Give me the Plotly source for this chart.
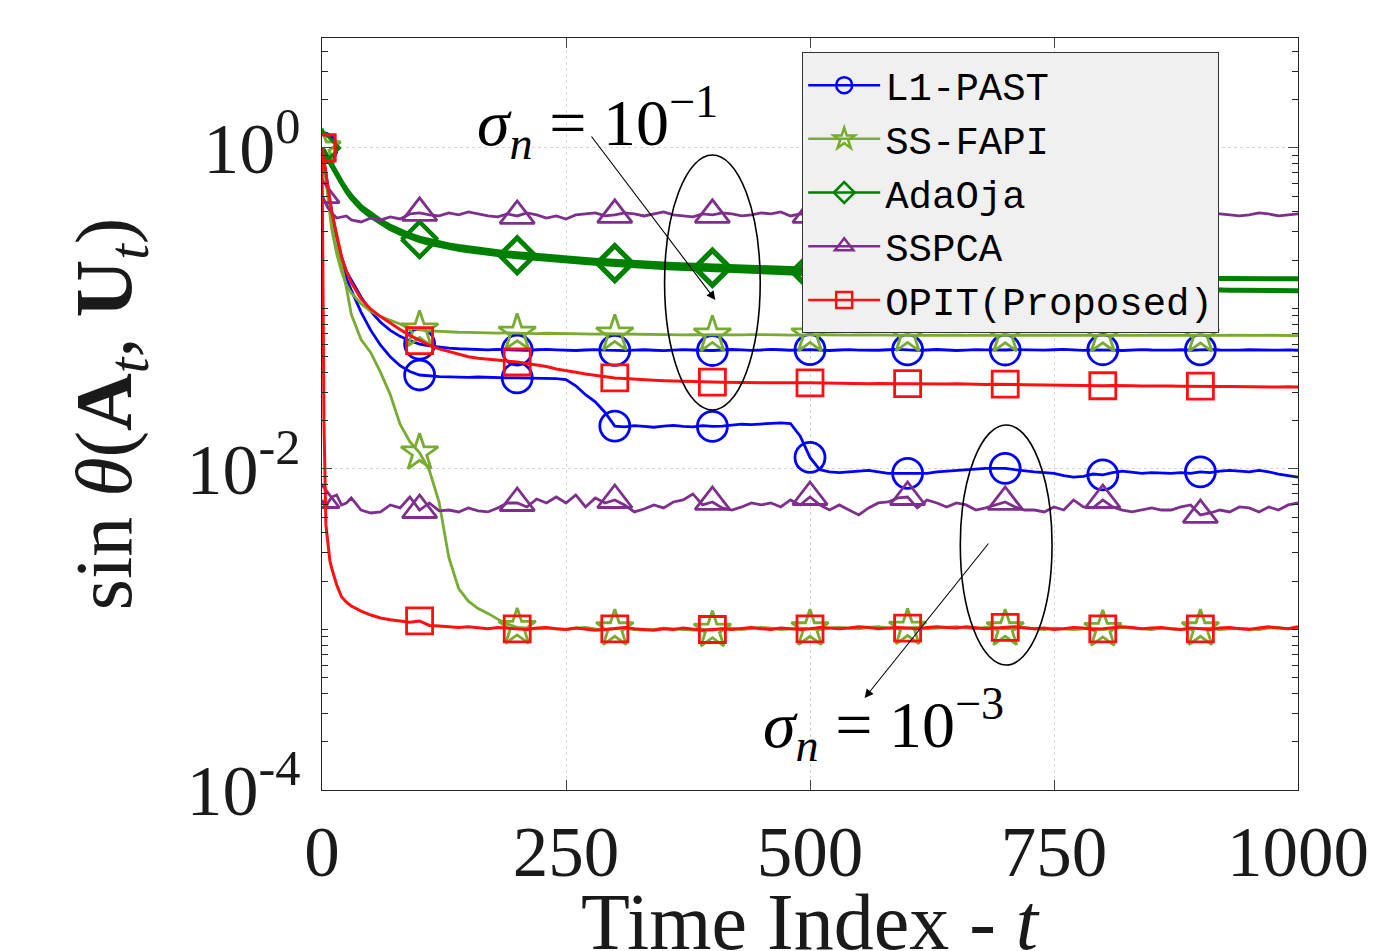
import plotly.graph_objects as go

# ---------------- data (time grid and sin-theta values) ----------------
T = [0, 2, 4, 6, 8, 10, 15, 20, 25, 30] + list(range(40, 1001, 10))
MARK_T = [0, 100, 200, 300, 400, 500, 600, 700, 800, 900]

L1PAST_HI = [1.0, 0.85, 0.70, 0.58, 0.48, 0.40, 0.28, 0.21, 0.17, 0.15,
             0.118, 0.096, 0.082, 0.073, 0.067, 0.063, 0.0600, 0.0585, 0.0573, 0.0566,
             0.0561, 0.0557, 0.0555, 0.0552, 0.0556, 0.0553, 0.0551, 0.0548, 0.0553, 0.0556,
             0.0552, 0.0549, 0.0547, 0.0551, 0.0554, 0.0550, 0.0548, 0.0546, 0.0550, 0.0553,
             0.0549, 0.0546, 0.0550, 0.0554, 0.0551, 0.0548, 0.0547, 0.0551, 0.0555, 0.0552,
             0.0548, 0.0551, 0.0556, 0.0553, 0.0549, 0.0552, 0.0554, 0.0550, 0.0547, 0.0551,
             0.0554, 0.0550, 0.0547, 0.0549, 0.0553, 0.0556, 0.0552, 0.0548, 0.0551, 0.0555,
             0.0551, 0.0547, 0.0550, 0.0554, 0.0552, 0.0549, 0.0551, 0.0555, 0.0552, 0.0548,
             0.0550, 0.0553, 0.0556, 0.0552, 0.0548, 0.0551, 0.0553, 0.0550, 0.0547, 0.0551,
             0.0554, 0.0551, 0.0548, 0.0550, 0.0553, 0.0549, 0.0552, 0.0555, 0.0551, 0.0548,
             0.0550, 0.0553, 0.0551, 0.0548, 0.0550, 0.0552, 0.0549]
L1PAST_LO = [1.0, 0.84, 0.68, 0.55, 0.45, 0.37, 0.25, 0.19, 0.155, 0.13,
             0.095, 0.073, 0.059, 0.050, 0.044, 0.0405, 0.0385, 0.0379, 0.0376, 0.0375,
             0.0373, 0.0372, 0.0374, 0.0371, 0.0370, 0.0369, 0.0369, 0.0368, 0.0370, 0.0367,
             0.0365, 0.0360, 0.0330, 0.0290, 0.0262, 0.0225, 0.0185, 0.0183, 0.0186, 0.0184,
             0.0182, 0.0185, 0.0187, 0.0184, 0.0183, 0.0186, 0.0184, 0.0185, 0.0188, 0.0190,
             0.0189, 0.0191, 0.0193, 0.0194, 0.0192, 0.0160, 0.0118, 0.0099, 0.0096, 0.0095,
             0.0096, 0.0097, 0.0098, 0.0096, 0.0094, 0.0094, 0.0094, 0.0095, 0.0094, 0.0096,
             0.0097, 0.0098, 0.0099, 0.0100, 0.0101, 0.0101, 0.0101, 0.0099, 0.0097, 0.0096,
             0.0095, 0.0094, 0.0091, 0.0089, 0.0090, 0.0093, 0.0092, 0.0095, 0.0097, 0.0096,
             0.0094, 0.0095, 0.0094, 0.0094, 0.0095, 0.0094, 0.0096, 0.0095, 0.0097, 0.0098,
             0.0097, 0.0096, 0.0098, 0.0096, 0.0093, 0.0091, 0.0089]
SSFAPI_HI = [1.0, 0.80, 0.62, 0.48, 0.38, 0.31, 0.22, 0.17, 0.14, 0.125,
             0.107, 0.096, 0.089, 0.084, 0.080, 0.076, 0.0735, 0.0725, 0.0718, 0.0714,
             0.0711, 0.0709, 0.0706, 0.0704, 0.0703, 0.0705, 0.0702, 0.0700, 0.0698, 0.0701,
             0.0699, 0.0696, 0.0698, 0.0695, 0.0693, 0.0696, 0.0694, 0.0691, 0.0693, 0.0690,
             0.0688, 0.0690, 0.0687, 0.0685, 0.0688, 0.0686, 0.0684, 0.0686, 0.0683, 0.0685,
             0.0687, 0.0684, 0.0682, 0.0685, 0.0683, 0.0681, 0.0684, 0.0686, 0.0683, 0.0681,
             0.0683, 0.0685, 0.0682, 0.0680, 0.0683, 0.0681, 0.0684, 0.0682, 0.0679, 0.0682,
             0.0684, 0.0681, 0.0679, 0.0682, 0.0680, 0.0683, 0.0681, 0.0678, 0.0681, 0.0683,
             0.0680, 0.0678, 0.0681, 0.0683, 0.0680, 0.0678, 0.0680, 0.0682, 0.0679, 0.0677,
             0.0680, 0.0682, 0.0679, 0.0677, 0.0680, 0.0682, 0.0679, 0.0677, 0.0679, 0.0681,
             0.0678, 0.0676, 0.0679, 0.0681, 0.0678, 0.0676, 0.0678]
SSFAPI_LO = [1.0, 0.80, 0.62, 0.50, 0.40, 0.33, 0.24, 0.185, 0.135, 0.092,
             0.064, 0.053, 0.040, 0.029, 0.019, 0.0148, 0.0126, 0.0098, 0.0062, 0.0028,
             0.00180, 0.00150, 0.00135, 0.00126, 0.00116, 0.00108, 0.00103, 0.00102, 0.00101, 0.00102,
             0.00101, 0.00100, 0.00102, 0.00103, 0.00101, 0.00100, 0.00101, 0.00102, 0.00100, 0.00099,
             0.00100, 0.00102, 0.00101, 0.00100, 0.00099, 0.00100, 0.00099, 0.00101, 0.00102, 0.00100,
             0.00101, 0.00103, 0.00102, 0.00100, 0.00101, 0.00102, 0.00101, 0.00100, 0.00102, 0.00103,
             0.00102, 0.00101, 0.00103, 0.00104, 0.00102, 0.00101, 0.00102, 0.00103, 0.00101, 0.00102,
             0.00103, 0.00104, 0.00102, 0.00101, 0.00103, 0.00102, 0.00101, 0.00102, 0.00103, 0.00101,
             0.00100, 0.00102, 0.00101, 0.00100, 0.00101, 0.00102, 0.00100, 0.00101, 0.00103, 0.00102,
             0.00101, 0.00100, 0.00102, 0.00101, 0.00100, 0.00101, 0.00101, 0.00102, 0.00100, 0.00101,
             0.00102, 0.00101, 0.00100, 0.00102, 0.00103, 0.00101, 0.00102]
ADAOJA_HI = [1.0, 0.95, 0.91, 0.87, 0.83, 0.80, 0.70, 0.61, 0.55, 0.50,
             0.43, 0.385, 0.352, 0.325, 0.303, 0.287, 0.274, 0.264, 0.256, 0.249,
             0.243, 0.238, 0.233, 0.229, 0.225, 0.222, 0.219, 0.216, 0.213, 0.210,
             0.208, 0.206, 0.204, 0.202, 0.200, 0.198, 0.196, 0.194, 0.193, 0.191,
             0.190, 0.189, 0.188, 0.187, 0.186, 0.185, 0.184, 0.183, 0.182, 0.181,
             0.180, 0.179, 0.178, 0.177, 0.176, 0.175, 0.174, 0.173, 0.172, 0.171,
             0.170, 0.170, 0.169, 0.168, 0.167, 0.167, 0.166, 0.165, 0.165, 0.164,
             0.163, 0.163, 0.162, 0.162, 0.161, 0.161, 0.160, 0.160, 0.159, 0.159,
             0.158, 0.158, 0.158, 0.157, 0.157, 0.157, 0.156, 0.156, 0.156, 0.156,
             0.155, 0.155, 0.155, 0.155, 0.154, 0.154, 0.154, 0.154, 0.154, 0.154,
             0.154, 0.153, 0.153, 0.153, 0.153, 0.153, 0.153]
ADAOJA_LO = [1.0, 0.95, 0.90, 0.86, 0.82, 0.79, 0.69, 0.60, 0.54, 0.49,
             0.42, 0.375, 0.342, 0.315, 0.294, 0.278, 0.265, 0.255, 0.247, 0.240,
             0.234, 0.229, 0.224, 0.220, 0.216, 0.213, 0.210, 0.207, 0.204, 0.201,
             0.199, 0.197, 0.195, 0.193, 0.191, 0.189, 0.187, 0.185, 0.184, 0.182,
             0.181, 0.180, 0.179, 0.178, 0.177, 0.176, 0.175, 0.174, 0.173, 0.172,
             0.171, 0.170, 0.169, 0.168, 0.167, 0.166, 0.165, 0.164, 0.163, 0.162,
             0.161, 0.160, 0.159, 0.158, 0.157, 0.156, 0.155, 0.154, 0.153, 0.152,
             0.151, 0.150, 0.149, 0.148, 0.147, 0.146, 0.145, 0.144, 0.143, 0.142,
             0.141, 0.140, 0.140, 0.139, 0.138, 0.137, 0.137, 0.136, 0.135, 0.135,
             0.134, 0.134, 0.133, 0.133, 0.132, 0.132, 0.131, 0.131, 0.131, 0.130,
             0.130, 0.130, 0.130, 0.129, 0.129, 0.129, 0.129]
SSPCA_HI = [0.509, 0.474, 0.442, 0.423, 0.411, 0.394, 0.366, 0.372, 0.377, 0.356,
            0.346, 0.366, 0.356, 0.372, 0.361, 0.388, 0.394, 0.383, 0.377, 0.394,
            0.383, 0.399, 0.388, 0.377, 0.372, 0.388, 0.377, 0.394, 0.383, 0.366,
            0.377, 0.361, 0.383, 0.388, 0.394, 0.377, 0.383, 0.394, 0.388, 0.377,
            0.388, 0.399, 0.383, 0.377, 0.372, 0.388, 0.383, 0.394, 0.388, 0.377,
            0.383, 0.394, 0.388, 0.399, 0.377, 0.388, 0.383, 0.394, 0.377, 0.388,
            0.372, 0.383, 0.394, 0.388, 0.377, 0.383, 0.388, 0.399, 0.383, 0.377,
            0.388, 0.394, 0.383, 0.372, 0.377, 0.388, 0.394, 0.383, 0.377, 0.388,
            0.383, 0.377, 0.388, 0.394, 0.383, 0.372, 0.383, 0.388, 0.394, 0.383,
            0.377, 0.388, 0.383, 0.394, 0.388, 0.377, 0.383, 0.394, 0.388, 0.383,
            0.377, 0.383, 0.394, 0.388, 0.377, 0.383, 0.388]
SSPCA_LO = [0.00641, 0.00597, 0.00572, 0.00614, 0.00641, 0.00669, 0.00689, 0.00597, 0.00614, 0.00660,
            0.00555, 0.00532, 0.00540, 0.00597, 0.00572, 0.00669, 0.00555, 0.00614, 0.00548, 0.00555,
            0.00540, 0.00572, 0.00548, 0.00540, 0.00572, 0.00614, 0.00614, 0.00580, 0.00650, 0.00614,
            0.00669, 0.00614, 0.00689, 0.00580, 0.00660, 0.00614, 0.00641, 0.00597, 0.00540, 0.00563,
            0.00597, 0.00572, 0.00623, 0.00641, 0.00699, 0.00597, 0.00623, 0.00572, 0.00555, 0.00580,
            0.00614, 0.00597, 0.00614, 0.00580, 0.00641, 0.00597, 0.00669, 0.00597, 0.00555, 0.00597,
            0.00555, 0.00517, 0.00572, 0.00614, 0.00623, 0.00660, 0.00669, 0.00572, 0.00641, 0.00614,
            0.00580, 0.00614, 0.00597, 0.00555, 0.00572, 0.00597, 0.00623, 0.00580, 0.00555, 0.00555,
            0.00540, 0.00580, 0.00555, 0.00641, 0.00580, 0.00572, 0.00641, 0.00580, 0.00555, 0.00540,
            0.00555, 0.00572, 0.00555, 0.00555, 0.00580, 0.00597, 0.00517, 0.00532, 0.00555, 0.00540,
            0.00580, 0.00572, 0.00540, 0.00580, 0.00555, 0.00597, 0.00614]
OPIT_HI = [1.0, 0.85, 0.70, 0.57, 0.47, 0.40, 0.29, 0.21, 0.17, 0.145,
           0.115, 0.099, 0.089, 0.081, 0.074, 0.068, 0.063, 0.059, 0.056, 0.054,
           0.052, 0.050, 0.049, 0.0485, 0.048, 0.047, 0.0464, 0.0455, 0.0445, 0.0435,
           0.0420, 0.0408, 0.0400, 0.0390, 0.0382, 0.0375, 0.0369, 0.0366, 0.0362, 0.0359,
           0.0357, 0.0355, 0.0353, 0.0351, 0.0350, 0.0349, 0.0348, 0.0347, 0.0346, 0.0346,
           0.0345, 0.0346, 0.0344, 0.0345, 0.0343, 0.0344, 0.0344, 0.0343, 0.0342, 0.0343,
           0.0341, 0.0342, 0.0340, 0.0341, 0.0339, 0.0340, 0.0340, 0.0339, 0.0338, 0.0339,
           0.0338, 0.0339, 0.0337, 0.0338, 0.0336, 0.0337, 0.0338, 0.0336, 0.0335, 0.0334,
           0.0333, 0.0334, 0.0332, 0.0331, 0.0332, 0.0330, 0.0330, 0.0331, 0.0329, 0.0330,
           0.0329, 0.0330, 0.0328, 0.0329, 0.0328, 0.0327, 0.0328, 0.0327, 0.0326, 0.0327,
           0.0326, 0.0325, 0.0326, 0.0325, 0.0324, 0.0325, 0.0324]
OPIT_LO = [1.0, 0.020, 0.0045, 0.0033, 0.0027, 0.0024, 0.0019, 0.0016, 0.00148, 0.00140,
           0.00130, 0.00123, 0.00118, 0.00115, 0.00113, 0.00111, 0.00113, 0.00106, 0.00105, 0.00104,
           0.00103, 0.00104, 0.00102, 0.00101, 0.00103, 0.00102, 0.00101, 0.00100, 0.00102, 0.00103,
           0.00101, 0.00100, 0.00102, 0.00101, 0.00099, 0.00100, 0.00101, 0.00103, 0.00101, 0.00100,
           0.00099, 0.00101, 0.00100, 0.00102, 0.00100, 0.00099, 0.00100, 0.00101, 0.00100, 0.00102,
           0.00103, 0.00101, 0.00100, 0.00102, 0.00101, 0.00100, 0.00101, 0.00103, 0.00102, 0.00101,
           0.00102, 0.00104, 0.00103, 0.00101, 0.00102, 0.00103, 0.00102, 0.00101, 0.00103, 0.00104,
           0.00103, 0.00102, 0.00104, 0.00103, 0.00101, 0.00102, 0.00103, 0.00104, 0.00102, 0.00101,
           0.00102, 0.00100, 0.00101, 0.00103, 0.00102, 0.00100, 0.00101, 0.00102, 0.00104, 0.00103,
           0.00101, 0.00102, 0.00103, 0.00101, 0.00100, 0.00102, 0.00101, 0.00100, 0.00102, 0.00103,
           0.00101, 0.00100, 0.00102, 0.00104, 0.00102, 0.00101, 0.00104]

METHODS = ["L1-PAST", "SS-FAPI", "AdaOja", "SSPCA", "OPIT(Proposed)"]
Y_TICKS = [1e-4, 1e-2, 1]
Y_TICKTEXT = ["10<sup>-4</sup>", "10<sup>-2</sup>", "10<sup>0</sup>"]
X_TICKS = [0, 250, 500, 750, 1000]

# ---------------- styles ----------------
STYLE = {
    "L1-PAST": dict(color="#0000ff", symbol="circle-open", size=30, lw=2.8),
    "SS-FAPI": dict(color="#77ac30", symbol="star-open", size=28, lw=2.8),
    "AdaOja": dict(color="#008000", symbol="diamond-open", size=27, lw=5),
    "SSPCA": dict(color="#7e2f8e", symbol="triangle-up-open", size=30, lw=2.8),
    "OPIT(Proposed)": dict(color="#ff1010", symbol="square-open", size=26, lw=3),
}
DATA = {
    "L1-PAST": (L1PAST_HI, L1PAST_LO),
    "SS-FAPI": (SSFAPI_HI, SSFAPI_LO),
    "AdaOja": (ADAOJA_HI, ADAOJA_LO),
    "SSPCA": (SSPCA_HI, SSPCA_LO),
    "OPIT(Proposed)": (OPIT_HI, OPIT_LO),
}

fig = go.Figure()
for m in METHODS:
    st = STYLE[m]
    for ys in DATA[m]:
        fig.add_trace(go.Scatter(x=T, y=ys, mode="lines", showlegend=False,
                                 line=dict(color=st["color"], width=st["lw"]),
                                 hoverinfo="skip"))
        mx = [t for t in T if t in MARK_T]
        my = [y for t, y in zip(T, ys) if t in MARK_T]
        fig.add_trace(go.Scatter(x=mx, y=my, mode="markers", showlegend=False,
                                 marker=dict(symbol=st["symbol"], size=st["size"],
                                             color=st["color"],
                                             line=dict(color=st["color"], width=2.8))))
# legend entries
for m in METHODS:
    st = STYLE[m]
    fig.add_trace(go.Scatter(x=[None], y=[None], mode="lines+markers", name=m,
                             line=dict(color=st["color"], width=2.5),
                             marker=dict(symbol=st["symbol"], size=16, color=st["color"],
                                         line=dict(color=st["color"], width=2.5))))

SERIF = "Liberation Serif"

# ellipses (data coordinates)
fig.add_shape(type="circle", xref="x", yref="y", x0=351, x1=449, y0=0.0233, y1=0.904,
              line=dict(color="black", width=1.6))
fig.add_shape(type="circle", xref="x", yref="y", x0=654, x1=748, y0=0.000601, y1=0.0188,
              line=dict(color="black", width=1.6))

# arrows (annotation coords on log axis are log10 values)
fig.add_annotation(x=403, y=-0.947, xref="x", yref="y", text="", showarrow=True,
                   ax=-125, ay=-165, arrowhead=2, arrowsize=1.6, arrowwidth=1.1,
                   arrowcolor="black")
fig.add_annotation(x=556, y=-3.427, xref="x", yref="y", text="", showarrow=True,
                   ax=125, ay=-156, arrowhead=2, arrowsize=1.6, arrowwidth=1.1,
                   arrowcolor="black")
fig.add_annotation(x=282, y=0.16, xref="x", yref="y", showarrow=False,
                   text="<i>σ</i><sub><i>n</i></sub> = 10<sup>−1</sup>",
                   font=dict(family=SERIF, size=66, color="black"))
fig.add_annotation(x=575, y=-3.59, xref="x", yref="y", showarrow=False,
                   text="<i>σ</i><sub><i>n</i></sub> = 10<sup>−3</sup>",
                   font=dict(family=SERIF, size=66, color="black"))

# axis titles
fig.add_annotation(x=0.5, y=-0.176, xref="paper", yref="paper", showarrow=False,
                   xanchor="center", yanchor="middle",
                   text="Time Index - <i>t</i>",
                   font=dict(family=SERIF, size=80, color="#1a1a1a"))
fig.add_annotation(x=-0.217, y=0.5, xref="paper", yref="paper", showarrow=False,
                   xanchor="center", yanchor="middle", textangle=-90,
                   text="sin <i>θ</i>(<b>A</b><sub><i>t</i></sub>, <b>U</b><sub><i>t</i></sub>)",
                   font=dict(family=SERIF, size=80, color="#1a1a1a"))

fig.update_layout(
    width=1388, height=951,
    margin=dict(l=322, r=90, t=38, b=161, autoexpand=False),
    paper_bgcolor="white", plot_bgcolor="white",
    showlegend=True,
    legend=dict(x=0.492, y=0.981, xanchor="left", yanchor="top",
                bgcolor="#f0f0f0", bordercolor="#333333", borderwidth=1,
                font=dict(family="Liberation Mono", size=39, color="black"),
                itemwidth=72, tracegroupgap=0, itemsizing="trace"),
    xaxis=dict(range=[0, 1000], tickvals=X_TICKS, ticks="inside", ticklen=10,
               showline=True, mirror="ticks", linecolor="#262626", linewidth=1.2,
               showgrid=True, gridcolor="#d6d6d6", griddash="dot", gridwidth=1,
               zeroline=False,
               tickfont=dict(family=SERIF, size=71, color="#1a1a1a"),
               ticklabelstandoff=0),
    yaxis=dict(type="log", range=[-4, 0.685], tickvals=Y_TICKS, ticktext=Y_TICKTEXT,
               ticks="inside", ticklen=10,
               showline=True, mirror="ticks", linecolor="#262626", linewidth=1.2,
               showgrid=True, gridcolor="#d6d6d6", griddash="dot", gridwidth=1,
               zeroline=False,
               minor=dict(ticks="inside", ticklen=6, tickcolor="#262626", showgrid=False,
                          tickmode="array",
                          tickvals=[2e-4, 3e-4, 4e-4, 5e-4, 6e-4, 7e-4, 8e-4, 9e-4,
                                    1e-3, 2e-3, 3e-3, 4e-3, 5e-3, 6e-3, 7e-3, 8e-3, 9e-3,
                                    2e-2, 3e-2, 4e-2, 5e-2, 6e-2, 7e-2, 8e-2, 9e-2,
                                    1e-1, 2e-1, 3e-1, 4e-1, 5e-1, 6e-1, 7e-1, 8e-1, 9e-1,
                                    2, 3, 4]),
               tickfont=dict(family=SERIF, size=72, color="#1a1a1a"),
               ticklabelstandoff=6),
)

fig.write_html("out.html")
